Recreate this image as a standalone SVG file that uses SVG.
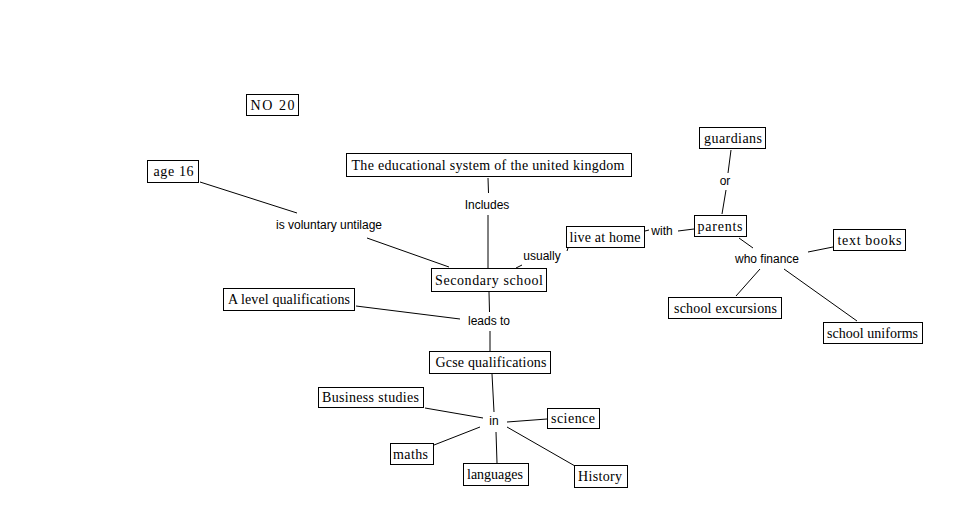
<svg xmlns="http://www.w3.org/2000/svg" width="970" height="529" viewBox="0 0 970 529">
<style>
  .box { fill: #ffffff; stroke: #000000; stroke-width: 1; }
  .nt { font-family: "Liberation Serif", "Times New Roman", serif; font-size: 14px; fill: #000; text-anchor: middle; }
  .lt { font-family: "Liberation Sans", Arial, sans-serif; font-size: 12px; fill: #000; text-anchor: middle; }
  .ln { stroke: #000; stroke-width: 1; fill: none; }
</style>
<rect x="0" y="0" width="970" height="529" fill="#ffffff"/>
<g id="connectors">
  <line class="ln" x1="200" y1="182" x2="297" y2="213"/>
  <line class="ln" x1="367" y1="238" x2="449" y2="267"/>
  <line class="ln" x1="488" y1="178" x2="488.5" y2="193"/>
  <line class="ln" x1="488" y1="215" x2="488" y2="268"/>
  <line class="ln" x1="568" y1="248" x2="567" y2="251"/>
  <line class="ln" x1="522" y1="265" x2="516" y2="268"/>
  <line class="ln" x1="645" y1="231" x2="649" y2="230"/>
  <line class="ln" x1="678" y1="231" x2="694" y2="229"/>
  <line class="ln" x1="731" y1="150" x2="728" y2="173"/>
  <line class="ln" x1="726" y1="190" x2="722" y2="214"/>
  <line class="ln" x1="739" y1="238" x2="753" y2="248"/>
  <line class="ln" x1="808" y1="252" x2="833" y2="247"/>
  <line class="ln" x1="760" y1="269" x2="736" y2="296"/>
  <line class="ln" x1="784" y1="269" x2="857" y2="321"/>
  <line class="ln" x1="356" y1="306" x2="460" y2="319"/>
  <line class="ln" x1="489" y1="292" x2="489.5" y2="312"/>
  <line class="ln" x1="490" y1="331" x2="490" y2="351"/>
  <line class="ln" x1="492" y1="374" x2="494" y2="412"/>
  <line class="ln" x1="425" y1="408" x2="483" y2="418"/>
  <line class="ln" x1="507" y1="422" x2="547" y2="419"/>
  <line class="ln" x1="434" y1="445" x2="480" y2="427"/>
  <line class="ln" x1="496" y1="432" x2="497" y2="463"/>
  <line class="ln" x1="507" y1="427" x2="575" y2="466"/>
</g>
<g id="labels">
  <text class="lt" x="329" y="229">is voluntary untilage</text>
  <text class="lt" x="487" y="209">Includes</text>
  <text class="lt" x="542" y="260">usually</text>
  <text class="lt" x="662" y="235">with</text>
  <text class="lt" x="725" y="185">or</text>
  <text class="lt" x="767" y="263">who finance</text>
  <text class="lt" x="489" y="325">leads to</text>
  <text class="lt" x="494" y="425">in</text>
</g>
<g id="node-no20"><rect class="box" x="246.5" y="94.5" width="52" height="21"/><text class="nt" x="272.5" y="110" textLength="44" lengthAdjust="spacing">NO 20</text></g>
<g id="node-age16"><rect class="box" x="147.5" y="160.5" width="51" height="22"/><text class="nt" x="173.5" y="176" textLength="40" lengthAdjust="spacing">age 16</text></g>
<g id="node-edu"><rect class="box" x="346.5" y="153.5" width="285" height="23"/><text class="nt" x="488" y="169.5" textLength="273" lengthAdjust="spacing">The educational system of the united kingdom</text></g>
<g id="node-secondary"><rect class="box" x="431.5" y="268.5" width="115" height="23"/><text class="nt" x="489" y="284.5" textLength="108" lengthAdjust="spacing">Secondary school</text></g>
<g id="node-live"><rect class="box" x="566.5" y="226.5" width="78" height="21"/><text class="nt" x="605" y="242" textLength="71" lengthAdjust="spacing">live at home</text></g>
<g id="node-guardians"><rect class="box" x="699.5" y="127.5" width="66" height="21"/><text class="nt" x="733" y="143" textLength="58" lengthAdjust="spacing">guardians</text></g>
<g id="node-parents"><rect class="box" x="694.5" y="215.5" width="52" height="21"/><text class="nt" x="720" y="230.5" textLength="45" lengthAdjust="spacing">parents</text></g>
<g id="node-textbooks"><rect class="box" x="833.5" y="229.5" width="72" height="21"/><text class="nt" x="869.5" y="245" textLength="64" lengthAdjust="spacing">text books</text></g>
<g id="node-excursions"><rect class="box" x="668.5" y="297.5" width="113" height="21"/><text class="nt" x="725.5" y="313" textLength="103" lengthAdjust="spacing">school excursions</text></g>
<g id="node-uniforms"><rect class="box" x="823.5" y="322.5" width="99" height="21"/><text class="nt" x="872.5" y="338" textLength="91" lengthAdjust="spacing">school uniforms</text></g>
<g id="node-alevel"><rect class="box" x="223.5" y="288.5" width="131" height="22"/><text class="nt" x="289" y="304" textLength="122" lengthAdjust="spacing">A level qualifications</text></g>
<g id="node-gcse"><rect class="box" x="429.5" y="351.5" width="121" height="22"/><text class="nt" x="491" y="367" textLength="111" lengthAdjust="spacing">Gcse qualifications</text></g>
<g id="node-business"><rect class="box" x="318.5" y="387.5" width="105" height="20"/><text class="nt" x="370.5" y="402" textLength="97" lengthAdjust="spacing">Business studies</text></g>
<g id="node-science"><rect class="box" x="547.5" y="408.5" width="52" height="20"/><text class="nt" x="573" y="423" textLength="44" lengthAdjust="spacing">science</text></g>
<g id="node-maths"><rect class="box" x="390.5" y="443.5" width="43" height="21"/><text class="nt" x="410.5" y="459" textLength="35" lengthAdjust="spacing">maths</text></g>
<g id="node-languages"><rect class="box" x="463.5" y="463.5" width="65" height="22"/><text class="nt" x="495" y="479" textLength="56" lengthAdjust="spacing">languages</text></g>
<g id="node-history"><rect class="box" x="574.5" y="465.5" width="53" height="22"/><text class="nt" x="600" y="481" textLength="44" lengthAdjust="spacing">History</text></g>
</svg>
